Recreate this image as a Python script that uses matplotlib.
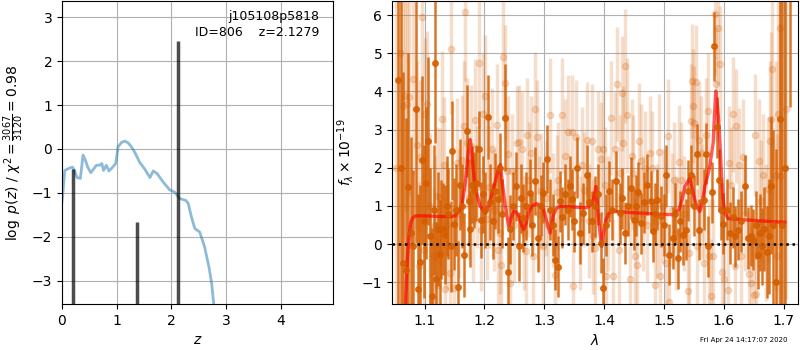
import matplotlib
matplotlib.use("Agg")
import matplotlib.pyplot as plt

# ---- left panel: log p(z) curve and the fit peaks ----
z_grid = [0.0, 0.018, 0.05, 0.11, 0.19, 0.23, 0.275, 0.336, 0.385, 0.43, 0.47, 0.526,
          0.57, 0.63, 0.69, 0.73, 0.76, 0.81, 0.86, 0.93, 0.983, 1.026, 1.09, 1.15,
          1.21, 1.27, 1.33, 1.42, 1.51, 1.61, 1.67, 1.74, 1.85, 1.97, 2.06, 2.155,
          2.265, 2.31, 2.37, 2.43, 2.52, 2.61, 2.69, 2.74, 2.78, 2.85, 2.95]
log_pz = [-1.2, -0.98, -0.49, -0.45, -0.41, -0.49, -0.65, -0.67, -0.14, -0.26, -0.41, -0.54,
          -0.47, -0.37, -0.37, -0.33, -0.49, -0.37, -0.5, -0.41, -0.33, 0.05, 0.15, 0.18,
          0.14, 0.05, -0.07, -0.3, -0.45, -0.65, -0.5, -0.56, -0.75, -0.93, -0.98, -1.13,
          -1.17, -1.24, -1.55, -1.81, -1.89, -2.23, -2.69, -3.07, -3.56, -4.6, -6.0]
peak_z = [0.2, 1.365, 2.1279]
peak_val = [-0.45, -1.66, 2.46]
chi2_text = r"$\log\ p(z)$ / $\chi^2=\frac{3067}{3120}=0.98$"
id_text = "j105108p5818\nID=806    z=2.1279"

# ---- right panel: spectrum (two beams) and model ----
dark_wave = [1.056, 1.060, 1.064, 1.0695, 1.073, 1.077, 1.0806, 1.085, 1.0895, 1.0925,
             1.0961, 1.0995, 1.1028, 1.1055, 1.1085, 1.1117, 1.1150, 1.1167, 1.1195, 1.1225,
             1.1250, 1.1273, 1.1306, 1.1335, 1.1370, 1.1400, 1.1434, 1.1460, 1.1484, 1.1525,
             1.1567, 1.1590, 1.1625, 1.1667, 1.1706, 1.1735, 1.1767, 1.1800, 1.1823, 1.1867,
             1.1906, 1.1935, 1.1975, 1.2010, 1.2068, 1.2100, 1.2140, 1.2180, 1.2224, 1.2257,
             1.2300, 1.2346, 1.2401, 1.2430, 1.2480, 1.2524, 1.2580, 1.2615, 1.2650, 1.2700,
             1.2763, 1.2800, 1.2846, 1.2902, 1.2940, 1.2985, 1.3040, 1.3096, 1.3140, 1.3180,
             1.3224, 1.3263, 1.3300, 1.3346, 1.3390, 1.3430, 1.3469, 1.3500, 1.3540, 1.3596,
             1.3652, 1.3707, 1.3750, 1.3790, 1.3846, 1.3900, 1.3952, 1.3980, 1.4030, 1.4090,
             1.4140, 1.4200, 1.4258, 1.4300, 1.4342, 1.4400, 1.4452, 1.4497, 1.4530, 1.4563,
             1.4619, 1.4670, 1.4719, 1.4786, 1.4813, 1.4850, 1.4886, 1.4953, 1.5000, 1.5036,
             1.5092, 1.5147, 1.5190, 1.5231, 1.5270, 1.5314, 1.5370, 1.5410, 1.5453, 1.5500,
             1.5553, 1.5592, 1.5661, 1.5700, 1.5744, 1.5800, 1.5844, 1.5883, 1.5922, 1.5960,
             1.5994, 1.6050, 1.6106, 1.6150, 1.6190, 1.6233, 1.6289, 1.6356, 1.6400, 1.6456,
             1.6494, 1.6530, 1.6567, 1.6600, 1.6634, 1.6680, 1.6717, 1.6750, 1.6789, 1.6830,
             1.6870, 1.6934, 1.6980, 1.7020, 1.7101]
dark_flux = [4.29, 2.0, -0.5, -0.69, 1.5, 0.3, -0.06, 3.53, -1.18, -0.46,
             2.2, 0.6, 1.6, 2.71, 0.2, -1.37, 0.9, 4.74, -0.92, 0.4,
             -0.25, 0.39, 0.39, 0.25, 1.0, 0.8, -0.06, 2.45, 0.53, 0.9,
             -1.13, 1.56, 1.0, -0.28, 2.96, 1.12, 0.39, 1.56, 1.41, 1.6,
             2.5, 0.64, 1.3, 0.9, 3.32, 1.1, 0.6, 1.4, 1.18, 2.0,
             0.8, 3.31, -0.72, 0.39, 1.0, 1.51, -0.06, 1.2, 0.68, 1.0,
             1.34, 0.5, 1.65, 0.16, 1.0, 1.34, 2.23, 0.9, 0.5, -0.41,
             -0.59, 1.12, 0.7, 1.3, 0.9, 1.51, 1.18, 0.6, 2.0, 0.29,
             0.81, 1.8, 1.1, 0.6, 0.99, 1.3, 0.03, -1.16, 0.5, 1.38,
             0.9, 1.65, 0.81, 1.2, 0.29, 1.0, 1.47, 0.64, 1.0, 1.36,
             0.55, 1.1, 1.56, 1.12, 0.33, 0.8, 1.16, 0.73, 0.5, 1.8,
             -0.28, 0.16, 0.8, -0.37, 0.6, 0.25, 0.38, 1.4, 1.8, 1.0,
             2.35, 0.38, 1.16, 2.37, -0.06, 1.36, 5.18, 3.06, 1.69, 0.9,
             0.53, 0.9, 0.29, 0.7, 0.2, 0.38, 0.6, 1.53, 0.16, 0.22,
             0.11, 0.5, -0.28, 0.3, -0.06, 0.4, -0.21, 0.2, 1.53, 0.5,
             -1.0, 3.29, 0.5, 2.0, 6.8]
dark_err = [6.0, 6.0, 5.0, 4.0, 3.5, 2.5, 2.0, 3.5, 2.5, 2.0,
            2.2, 2.0, 2.0, 2.2, 1.8, 1.8, 1.7, 2.1, 1.5, 1.5,
            1.4, 1.3, 1.2, 1.3, 1.3, 1.2, 1.2, 1.3, 1.2, 1.2,
            1.2, 1.2, 1.1, 1.1, 1.2, 1.1, 1.0, 1.0, 1.0, 1.0,
            1.0, 1.0, 1.0, 1.0, 1.1, 1.0, 1.0, 1.0, 0.9, 0.9,
            0.9, 1.4, 0.9, 0.9, 0.9, 0.9, 0.9, 0.9, 0.9, 0.9,
            0.9, 0.8, 0.9, 0.9, 0.8, 0.8, 0.9, 0.8, 0.8, 0.8,
            0.8, 0.8, 0.8, 0.8, 0.8, 0.8, 0.8, 0.8, 0.8, 0.8,
            0.8, 0.8, 0.8, 0.8, 0.8, 0.8, 0.8, 0.8, 0.8, 0.8,
            0.8, 0.8, 0.8, 0.8, 0.8, 0.8, 0.8, 0.8, 0.8, 0.8,
            0.8, 0.8, 0.8, 0.8, 0.8, 0.8, 0.8, 0.8, 0.8, 0.8,
            0.8, 0.8, 0.8, 0.8, 0.8, 0.8, 0.8, 0.8, 0.8, 0.8,
            0.8, 0.8, 0.8, 0.8, 0.8, 0.8, 0.9, 0.8, 0.8, 0.8,
            0.8, 0.8, 0.8, 0.8, 0.8, 0.8, 0.8, 0.8, 0.8, 0.8,
            0.8, 0.9, 0.9, 1.0, 1.0, 1.1, 1.2, 1.5, 1.8, 2.5,
            3.5, 5.0, 6.0, 6.0, 3.2]

light_wave = [1.052, 1.0585, 1.0638, 1.0677, 1.0706, 1.0745, 1.0805, 1.0878, 1.0900, 1.0922,
              1.0956, 1.0985, 1.1006, 1.1034, 1.1095, 1.1120, 1.1150, 1.1180, 1.1206, 1.1230,
              1.1260, 1.1290, 1.1318, 1.1345, 1.1380, 1.1429, 1.1445, 1.1484, 1.1540, 1.1580,
              1.1620, 1.1660, 1.1678, 1.1707, 1.1750, 1.1780, 1.1815, 1.1845, 1.1880, 1.1902,
              1.1940, 1.1984, 1.2012, 1.2040, 1.2080, 1.2120, 1.2160, 1.2207, 1.2235, 1.2260,
              1.2276, 1.2318, 1.2350, 1.2370, 1.2401, 1.2430, 1.2457, 1.2500, 1.2540, 1.2580,
              1.2624, 1.2660, 1.2690, 1.2707, 1.2740, 1.2775, 1.2818, 1.2846, 1.2874, 1.2910,
              1.2950, 1.2985, 1.3030, 1.3060, 1.3096, 1.3140, 1.3179, 1.3207, 1.3235, 1.3290,
              1.3346, 1.3400, 1.3457, 1.3480, 1.3530, 1.3596, 1.3624, 1.3660, 1.3707, 1.3750,
              1.3790, 1.3820, 1.3846, 1.3900, 1.3954, 1.3980, 1.4009, 1.4037, 1.4070, 1.4109,
              1.4148, 1.4176, 1.4221, 1.4250, 1.4270, 1.4299, 1.4315, 1.4343, 1.4380, 1.4426,
              1.4460, 1.4490, 1.4520, 1.4554, 1.4585, 1.4610, 1.4650, 1.4676, 1.4720, 1.4759,
              1.4800, 1.4843, 1.4880, 1.4914, 1.4940, 1.4990, 1.5037, 1.5060, 1.5080, 1.5130,
              1.5176, 1.5204, 1.5248, 1.5287, 1.5330, 1.5400, 1.5426, 1.5450, 1.5470, 1.5490,
              1.5509, 1.5537, 1.5560, 1.5592, 1.5620, 1.5640, 1.5661, 1.5700, 1.5738, 1.5760,
              1.5785, 1.5815, 1.5849, 1.5877, 1.5900, 1.5935, 1.5978, 1.6010, 1.6067, 1.6090,
              1.6120, 1.6155, 1.6183, 1.6211, 1.6261, 1.6294, 1.6316, 1.6350, 1.6428, 1.6456,
              1.6500, 1.6516, 1.6539, 1.6594, 1.6620, 1.6650, 1.6700, 1.6739, 1.6767, 1.6790,
              1.6811, 1.6878, 1.6889, 1.6906, 1.6933, 1.6944, 1.7033]
light_flux = [2.0, 5.0, 3.63, 3.88, 3.66, 3.86, 4.32, 2.59, -0.57, 2.29,
              5.96, -0.15, 3.4, 3.68, 1.0, -1.46, -0.32, 0.51, 1.27, -1.07,
              1.23, 3.27, 2.06, -1.18, 0.5, -0.76, 5.12, -1.16, 2.13, 0.8,
              2.2, 3.09, 6.07, 2.65, 1.2, 2.58, 0.6, 3.24, 1.5, 4.74,
              0.38, 3.42, 3.88, 0.66, 1.5, 2.5, 0.9, 3.11, -0.15, 0.29,
              -0.54, 4.91, 4.23, 1.91, 2.37, -1.02, 1.91, 0.5, 2.64, 2.67,
              2.48, 0.29, -0.19, 2.85, 1.69, 2.39, -0.32, 3.53, 2.8, 0.8,
              1.4, -0.06, 1.2, 0.5, 3.37, 0.9, -0.81, 1.36, 1.69, 3.37,
              2.3, 2.94, 2.94, -1.09, 2.81, 0.29, 2.08, 1.43, 2.74, 0.6,
              2.7, 0.2, -0.1, 2.5, 2.23, 2.5, 1.56, -0.83, 0.8, 3.31,
              -0.83, 2.48, 4.19, -0.15, 1.87, 3.95, 2.64, 4.67, 3.37, -0.92,
              2.3, 1.87, -0.32, -0.54, 2.71, 2.17, 0.8, 2.0, 0.5, 2.39,
              2.0, -1.07, 0.6, 2.42, -0.83, 1.0, -0.5, 2.83, -1.53, 0.9,
              1.69, 0.29, 2.15, 1.69, 0.8, -1.23, -0.24, 3.22, 4.27, 3.62,
              3.16, 4.25, -0.06, 2.74, 2.39, 1.12, -0.5, 2.85, 3.5, -0.32,
              -1.36, -0.31, 6.02, 4.19, 5.67, 4.73, -0.74, -0.92, -1.2, 2.13,
              1.56, 3.4, -0.57, 3.09, 2.06, -0.32, 2.29, 0.8, -0.78, -1.01,
              -1.33, 2.87, -1.3, 2.19, 1.12, 1.8, 0.3, 1.44, 2.7, 3.27,
              4.58, 1.8, -0.32, 3.4, 1.78, 5.67, 3.55]
light_err = [6.0, 5.0, 3.5, 3.0, 2.8, 2.6, 2.5, 2.2, 2.2, 2.0,
             2.2, 2.0, 2.0, 1.9, 1.9, 1.9, 1.8, 1.8, 1.8, 1.8,
             1.8, 1.8, 1.8, 1.8, 1.7, 1.7, 1.7, 1.7, 1.7, 1.7,
             1.7, 1.7, 1.8, 1.7, 1.6, 1.6, 1.6, 1.6, 1.6, 1.7,
             1.6, 1.6, 1.6, 1.6, 1.6, 1.6, 1.6, 1.6, 1.6, 1.6,
             1.6, 1.6, 1.5, 1.5, 1.5, 1.5, 1.5, 1.5, 1.5, 1.5,
             1.5, 1.5, 1.5, 1.5, 1.5, 1.5, 1.5, 1.5, 1.5, 1.5,
             1.5, 1.5, 1.5, 1.5, 1.5, 1.5, 1.5, 1.5, 1.5, 1.5,
             1.5, 1.5, 1.5, 1.5, 1.5, 1.5, 1.5, 1.5, 1.5, 1.5,
             1.5, 1.5, 1.5, 1.5, 1.5, 1.5, 1.5, 1.5, 1.5, 1.5,
             1.5, 1.5, 1.5, 1.5, 1.5, 1.5, 1.5, 1.5, 1.5, 1.5,
             1.5, 1.5, 1.5, 1.5, 1.5, 1.5, 1.5, 1.5, 1.5, 1.5,
             1.5, 1.5, 1.5, 1.5, 1.5, 1.5, 1.5, 1.5, 1.5, 1.5,
             1.5, 1.5, 1.5, 1.5, 1.5, 1.5, 1.5, 1.5, 1.5, 1.5,
             1.5, 1.5, 1.5, 1.5, 1.5, 1.5, 1.5, 1.5, 1.5, 1.5,
             1.5, 1.5, 1.6, 1.5, 1.5, 1.5, 1.5, 1.5, 1.5, 1.5,
             1.5, 1.5, 1.5, 1.5, 1.5, 1.5, 1.5, 1.5, 1.5, 1.5,
             1.5, 1.6, 1.6, 1.6, 1.6, 1.6, 1.8, 1.9, 2.1, 2.3,
             2.5, 3.0, 3.2, 3.5, 4.0, 4.5, 5.0]

model_wave = [1.0676, 1.0711, 1.0740, 1.0767, 1.0800, 1.0850, 1.1000, 1.1300, 1.1450, 1.1517,
              1.1570, 1.1629, 1.1680, 1.1712, 1.1745, 1.1762, 1.1780, 1.1810, 1.1850, 1.1930,
              1.2017, 1.2080, 1.2130, 1.2190, 1.2240, 1.2268, 1.2300, 1.2350, 1.2380, 1.2407,
              1.2450, 1.2490, 1.2530, 1.2574, 1.2620, 1.2657, 1.2700, 1.2740, 1.2800, 1.2875,
              1.2930, 1.2985, 1.3040, 1.3097, 1.3150, 1.3200, 1.3264, 1.3500, 1.3710, 1.3790,
              1.3820, 1.3864, 1.3880, 1.3900, 1.3930, 1.3959, 1.3990, 1.4030, 1.4080, 1.4126,
              1.4500, 1.5000, 1.5155, 1.5250, 1.5310, 1.5349, 1.5433, 1.5480, 1.5516, 1.5560,
              1.5600, 1.5640, 1.5683, 1.5740, 1.5766, 1.5822, 1.5845, 1.5866, 1.5895, 1.5922,
              1.5960, 1.5990, 1.6017, 1.6072, 1.6500, 1.7018]
model_flux = [-1.8, -0.41, 0.2, 0.55, 0.68, 0.74, 0.74, 0.72, 0.72, 0.75,
              0.85, 1.05, 1.6, 2.1, 2.6, 2.74, 2.55, 2.0, 1.45, 0.99,
              0.81, 1.05, 1.34, 1.7, 2.0, 2.08, 1.6, 0.99, 0.7, 0.46,
              0.7, 0.86, 0.84, 0.73, 0.5, 0.38, 0.55, 0.85, 1.0, 1.06,
              1.02, 0.93, 0.6, 0.29, 0.75, 0.93, 0.99, 0.97, 0.95, 1.05,
              1.16, 1.51, 1.2, 0.81, 0.3, -0.06, 0.3, 0.64, 0.8, 0.86,
              0.82, 0.78, 0.77, 0.9, 1.2, 1.51, 1.73, 1.4, 1.16, 0.95,
              0.86, 1.1, 1.51, 1.85, 2.04, 2.65, 3.4, 4.01, 3.6, 3.09,
              1.87, 1.2, 0.81, 0.67, 0.62, 0.57]

beam_color = "#d55e00"

fig = plt.figure(figsize=(8, 3.5), dpi=100)
ax1 = fig.add_axes([62 / 800, 46 / 350, 271 / 800, 303 / 350])
ax2 = fig.add_axes([392 / 800, 46 / 350, 406 / 800, 303 / 350])

# left: p(z)
ax1.plot(z_grid, log_pz, color="C0", alpha=0.5, lw=2)
ax1.vlines(peak_z, -10, peak_val, color="k", alpha=0.7, lw=2.5)
ax1.text(0.95, 0.97, id_text, transform=ax1.transAxes, ha="right", va="top",
         fontsize=9, linespacing=1.25)
ax1.set_xlim(0, 4.96)
ax1.set_ylim(-3.53, 3.37)
ax1.set_xticks([0, 1, 2, 3, 4])
ax1.set_yticks([-3, -2, -1, 0, 1, 2, 3])
ax1.set_xlabel(r"$z$")
ax1.set_ylabel(chi2_text)
ax1.grid(True)
ax1.set_axisbelow(True)

# right: spectrum
ax2.errorbar(light_wave, light_flux, yerr=light_err, fmt="o", color=beam_color,
             alpha=0.2, ms=4.5, elinewidth=2.5, capsize=0)
ax2.errorbar(dark_wave, dark_flux, yerr=dark_err, fmt="o", color=beam_color,
             alpha=0.85, ms=4, elinewidth=1.8, capsize=0)
ax2.plot(model_wave, model_flux, color="r", alpha=0.65, lw=2.4)
ax2.axhline(0, color="k", ls=(0, (1, 1.5)), lw=1.8)
ax2.set_xlim(1.0456, 1.724)
ax2.set_ylim(-1.57, 6.37)
ax2.set_xticks([1.1, 1.2, 1.3, 1.4, 1.5, 1.6, 1.7])
ax2.set_yticks([-1, 0, 1, 2, 3, 4, 5, 6])
ax2.set_xlabel(r"$\lambda$")
ax2.set_ylabel(r"$f_\lambda \times 10^{-19}$")
ax2.grid(True)

fig.text(0.985, 0.02, "Fri Apr 24 14:17:07 2020", ha="right", va="bottom", fontsize=5)

fig.savefig("out.png", dpi=100)
